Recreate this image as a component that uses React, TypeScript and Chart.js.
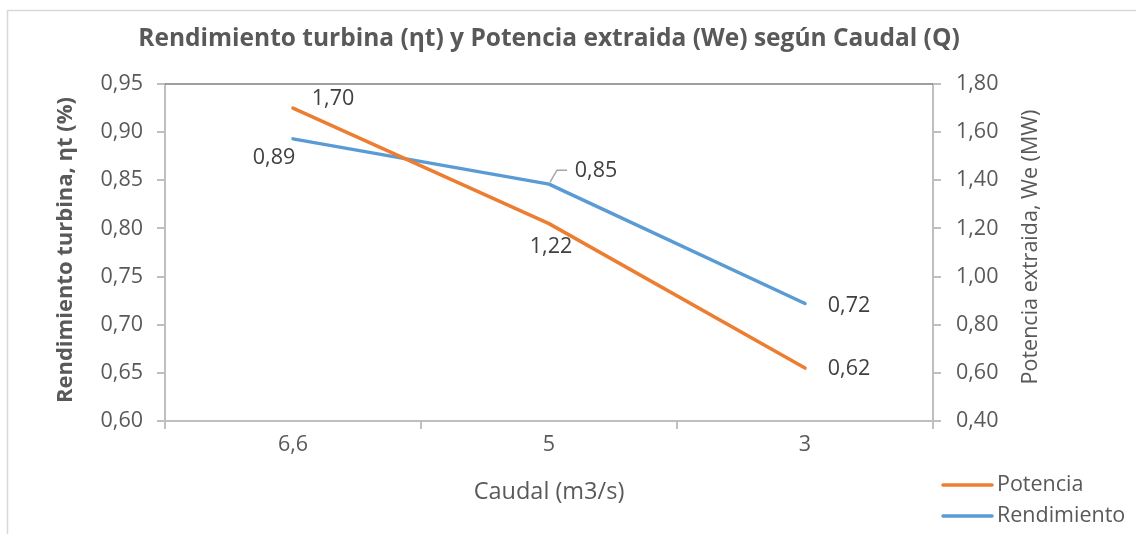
import React, { useEffect, useRef } from 'react';
import { Chart, registerables } from 'chart.js';

Chart.register(...registerables);

// ---- data ----
const categories = ['6,6', '5', '3'];
const potenciaMW = [1.7, 1.22, 0.62];
const rendimiento = [0.893, 0.846, 0.722];
const seriesNames = ['Potencia', 'Rendimiento'];
const leftAxisRange = [0.6, 0.95, 0.05];
const rightAxisRange = [0.4, 1.8, 0.2];

const chartTitle = 'Rendimiento turbina (ηt) y Potencia extraida (We) según Caudal (Q)';
const leftAxisTitle = 'Rendimiento turbina, ηt (%)';
const rightAxisTitle = 'Potencia extraida, We (MW)';
const xAxisTitle = 'Caudal (m3/s)';

// ---- styles ----
const FONT = '"Open Sans", "DejaVu Sans", sans-serif';
const ORANGE = '#ED7D31';
const BLUE = '#5B9BD5';
const TEXT = '#595959';
const LABEL = '#404040';
const AXIS = '#BFBFBF';

// label offsets relative to each point (px)
const labelOffsets = [
  [[40, -9], [2, 23], [44, 1]],
  [[-19, 19], [47, -13], [44, 2]],
];

const fmt = (v: number) => v.toFixed(2).replace('.', ',');

const overlay = {
  id: 'overlay',
  beforeDraw(chart: any) {
    const ctx = chart.ctx;
    ctx.save();
    ctx.fillStyle = '#ffffff';
    ctx.fillRect(0, 0, chart.width, chart.height);
    ctx.strokeStyle = '#D9D9D9';
    ctx.lineWidth = 1.5;
    ctx.strokeRect(7.5, 10.5, chart.width + 20, chart.height + 20);
    ctx.restore();
  },
  afterDraw(chart: any) {
    const ctx = chart.ctx;
    const { left, right, top } = chart.chartArea;
    ctx.save();
    // top border of plot area
    ctx.strokeStyle = '#7F7F7F';
    ctx.lineWidth = 1.5;
    ctx.beginPath();
    ctx.moveTo(left, top);
    ctx.lineTo(right, top);
    ctx.stroke();

    // title
    ctx.fillStyle = TEXT;
    ctx.textAlign = 'center';
    ctx.textBaseline = 'middle';
    ctx.font = `bold 24.5px ${FONT}`;
    ctx.fillText(chartTitle, 549, 39);

    // x axis title
    ctx.font = `23.5px ${FONT}`;
    ctx.fillText(xAxisTitle, (left + right) / 2, 492);

    // left axis title
    ctx.save();
    ctx.translate(66, 250);
    ctx.rotate(-Math.PI / 2);
    ctx.font = `bold 22px ${FONT}`;
    ctx.fillText(leftAxisTitle, 0, 0);
    ctx.restore();

    // right axis title
    ctx.save();
    ctx.translate(1031, 247);
    ctx.rotate(-Math.PI / 2);
    ctx.font = `21.5px ${FONT}`;
    ctx.fillText(rightAxisTitle, 0, 0);
    ctx.restore();

    // data labels
    ctx.font = `21.5px ${FONT}`;
    ctx.fillStyle = LABEL;
    chart.data.datasets.forEach((ds: any, i: number) => {
      const meta = chart.getDatasetMeta(i);
      meta.data.forEach((pt: any, j: number) => {
        const [dx, dy] = labelOffsets[i][j];
        ctx.fillText(fmt(ds.data[j]), pt.x + dx, pt.y + dy);
        if (i === 1 && j === 1) {
          // leader line
          ctx.strokeStyle = '#A6A6A6';
          ctx.lineWidth = 1.5;
          ctx.beginPath();
          ctx.moveTo(pt.x + 1, pt.y - 2);
          ctx.lineTo(pt.x + 8, pt.y - 14);
          ctx.lineTo(pt.x + 18, pt.y - 14);
          ctx.stroke();
        }
      });
    });

    // legend
    const legendY = [485, 516];
    chart.data.datasets.forEach((ds: any, i: number) => {
      ctx.strokeStyle = ds.borderColor;
      ctx.lineWidth = 3.5;
      ctx.lineCap = 'round';
      ctx.beginPath();
      ctx.moveTo(943, legendY[i]);
      ctx.lineTo(992, legendY[i]);
      ctx.stroke();
      ctx.fillStyle = TEXT;
      ctx.textAlign = 'left';
      ctx.font = `21.5px ${FONT}`;
      ctx.fillText(ds.label, 997, legendY[i]);
    });
    ctx.restore();
  },
};

export default function App() {
  const ref = useRef<HTMLCanvasElement | null>(null);

  useEffect(() => {
    if (!ref.current) return;
    const tickFont = { family: FONT, size: 21.5 };
    const chart = new Chart(ref.current, {
      type: 'line',
      data: {
        labels: categories,
        datasets: [
          {
            label: seriesNames[0],
            data: potenciaMW,
            borderColor: ORANGE,
            backgroundColor: ORANGE,
            borderWidth: 3.5,
            pointRadius: 0,
            borderCapStyle: 'round',
            borderJoinStyle: 'round',
            yAxisID: 'y1',
          },
          {
            label: seriesNames[1],
            data: rendimiento,
            borderColor: BLUE,
            backgroundColor: BLUE,
            borderWidth: 3.5,
            pointRadius: 0,
            borderCapStyle: 'round',
            borderJoinStyle: 'round',
            yAxisID: 'y',
          },
        ],
      },
      options: {
        responsive: false,
        animation: false,
        devicePixelRatio: 1,
        layout: { padding: { top: 84, left: 0, right: 0, bottom: 0 } },
        plugins: {
          legend: { display: false },
          title: { display: false },
          tooltip: { enabled: false },
        },
        scales: {
          x: {
            type: 'category',
            offset: true,
            grid: {
              offset: true,
              drawOnChartArea: false,
              drawTicks: true,
              tickLength: 8,
              color: AXIS,
              lineWidth: 2,
            },
            border: { display: true, color: AXIS, width: 2 },
            ticks: { color: TEXT, font: tickFont, padding: 3, maxRotation: 0 },
            afterFit: (s: any) => {
              s.height = 113;
            },
          },
          y: {
            type: 'linear',
            position: 'left',
            min: leftAxisRange[0],
            max: leftAxisRange[1],
            grid: {
              drawOnChartArea: false,
              drawTicks: true,
              tickLength: 8,
              color: AXIS,
              lineWidth: 2,
            },
            border: { display: true, color: AXIS, width: 2 },
            ticks: {
              stepSize: leftAxisRange[2],
              color: TEXT,
              font: tickFont,
              padding: 14,
              callback: (v: any) => fmt(Number(v)),
            },
            afterFit: (s: any) => {
              s.width = 165;
            },
          },
          y1: {
            type: 'linear',
            position: 'right',
            min: rightAxisRange[0],
            max: rightAxisRange[1],
            grid: {
              drawOnChartArea: false,
              drawTicks: true,
              tickLength: 8,
              color: AXIS,
              lineWidth: 2,
            },
            border: { display: true, color: AXIS, width: 2 },
            ticks: {
              stepSize: rightAxisRange[2],
              color: TEXT,
              font: tickFont,
              padding: 15,
              callback: (v: any) => fmt(Number(v)),
            },
            afterFit: (s: any) => {
              s.width = 203;
            },
          },
        },
      },
      plugins: [overlay],
    } as any);
    return () => chart.destroy();
  }, []);

  return (
    <div style={{ position: 'fixed', left: 0, top: 0, width: 1136, height: 534 }}>
      <canvas ref={ref} width={1136} height={534} style={{ display: 'block' }} />
    </div>
  );
}
